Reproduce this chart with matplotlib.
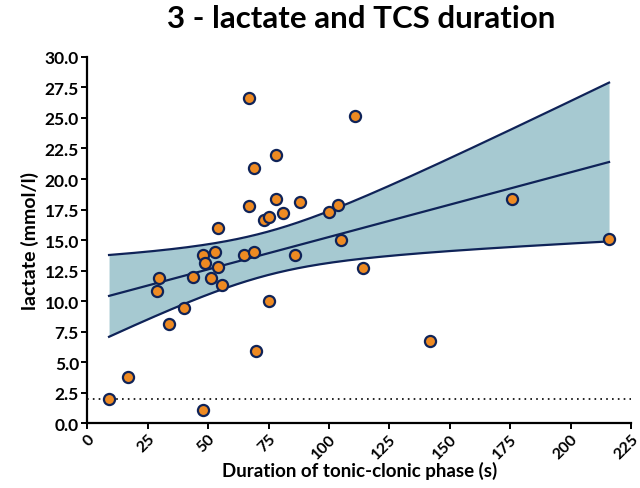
import numpy as np
import matplotlib.pyplot as plt

# tonic-clonic phase duration (s) and lactate (mmol/l)
duration = [9, 17, 29, 29.8, 33.8, 39.9, 43.9, 48, 48, 48.9, 51, 52.7, 54.1, 54,
            55.9, 64.9, 67, 67, 68.9, 69, 70, 73, 75, 75, 78, 78, 81, 85.9, 87.9,
            99.9, 103.9, 104.9, 110.9, 113.9, 141.8, 175.8, 215.9]
lactate = [2.0, 3.8, 10.8, 11.9, 8.1, 9.4, 12.0, 1.05, 13.8, 13.1, 11.9, 14.0, 12.8, 16.0,
           11.3, 13.8, 26.6, 17.8, 20.9, 14.0, 5.9, 16.6, 16.9, 10.0, 22.0, 18.4, 17.2, 13.8, 18.1,
           17.3, 17.9, 15.0, 25.2, 12.7, 6.7, 18.4, 15.1]
normal_limit = 2.0
xticks = np.arange(0, 226, 25)
yticks = np.arange(0, 30.1, 2.5)

navy = '#0f2358'
orange = '#ee8a22'
band = '#a6c9d1'

x = np.array(duration)
y = np.array(lactate)
n = len(x)
slope, intercept = np.polyfit(x, y, 1)
resid = y - (slope * x + intercept)
s = np.sqrt(np.sum(resid ** 2) / (n - 2))
t = 2.030  # t(0.975, df=35)
xs = np.linspace(x.min(), x.max(), 200)
fit = slope * xs + intercept
half = t * s * np.sqrt(1 / n + (xs - x.mean()) ** 2 / np.sum((x - x.mean()) ** 2))

plt.rcParams['font.family'] = ['Lato', 'DejaVu Sans']
fig = plt.figure(figsize=(6.4, 4.89), dpi=100)
ax = fig.add_axes([0.1364, 0.1329, 0.986 - 0.1364, 0.8814 - 0.1329])

ax.fill_between(xs, fit - half, fit + half, color=band, lw=0, zorder=1)
ax.plot(xs, fit, color=navy, lw=1.6, zorder=2)
ax.plot(xs, fit + half, color=navy, lw=1.6, zorder=2)
ax.plot(xs, fit - half, color=navy, lw=1.6, zorder=2)
ax.axhline(normal_limit, color='black', ls=(0, (1, 2.5)), lw=1.2, zorder=2)
ax.plot(x, y, 'o', ms=8, mfc=orange, mec=navy, mew=1.6, zorder=3, clip_on=False)

ax.set_xlim(0, 225)
ax.set_ylim(0, 30)
ax.set_xticks(xticks)
ax.set_yticks(yticks)
ax.set_yticklabels([f'{v:.1f}' for v in yticks], fontweight='bold', fontsize=12.5)
ax.set_xticklabels([str(v) for v in xticks], fontweight='bold', fontsize=11.5,
                   rotation=45, ha='right', rotation_mode='anchor')
for side in ['top', 'right']:
    ax.spines[side].set_visible(False)
for side in ['left', 'bottom']:
    ax.spines[side].set_linewidth(1.6)
ax.tick_params(width=1.4, length=4, direction='out', pad=2)

ax.set_xlabel('Duration of tonic-clonic phase (s)', fontweight='bold', fontsize=13.5, labelpad=0)
ax.set_ylabel('lactate (mmol/l)', fontweight='bold', fontsize=14, labelpad=4)
fig.suptitle('3 - lactate and TCS duration', fontweight='bold', fontsize=22.5, x=0.565, y=0.99)

fig.savefig('out.png', dpi=100)
